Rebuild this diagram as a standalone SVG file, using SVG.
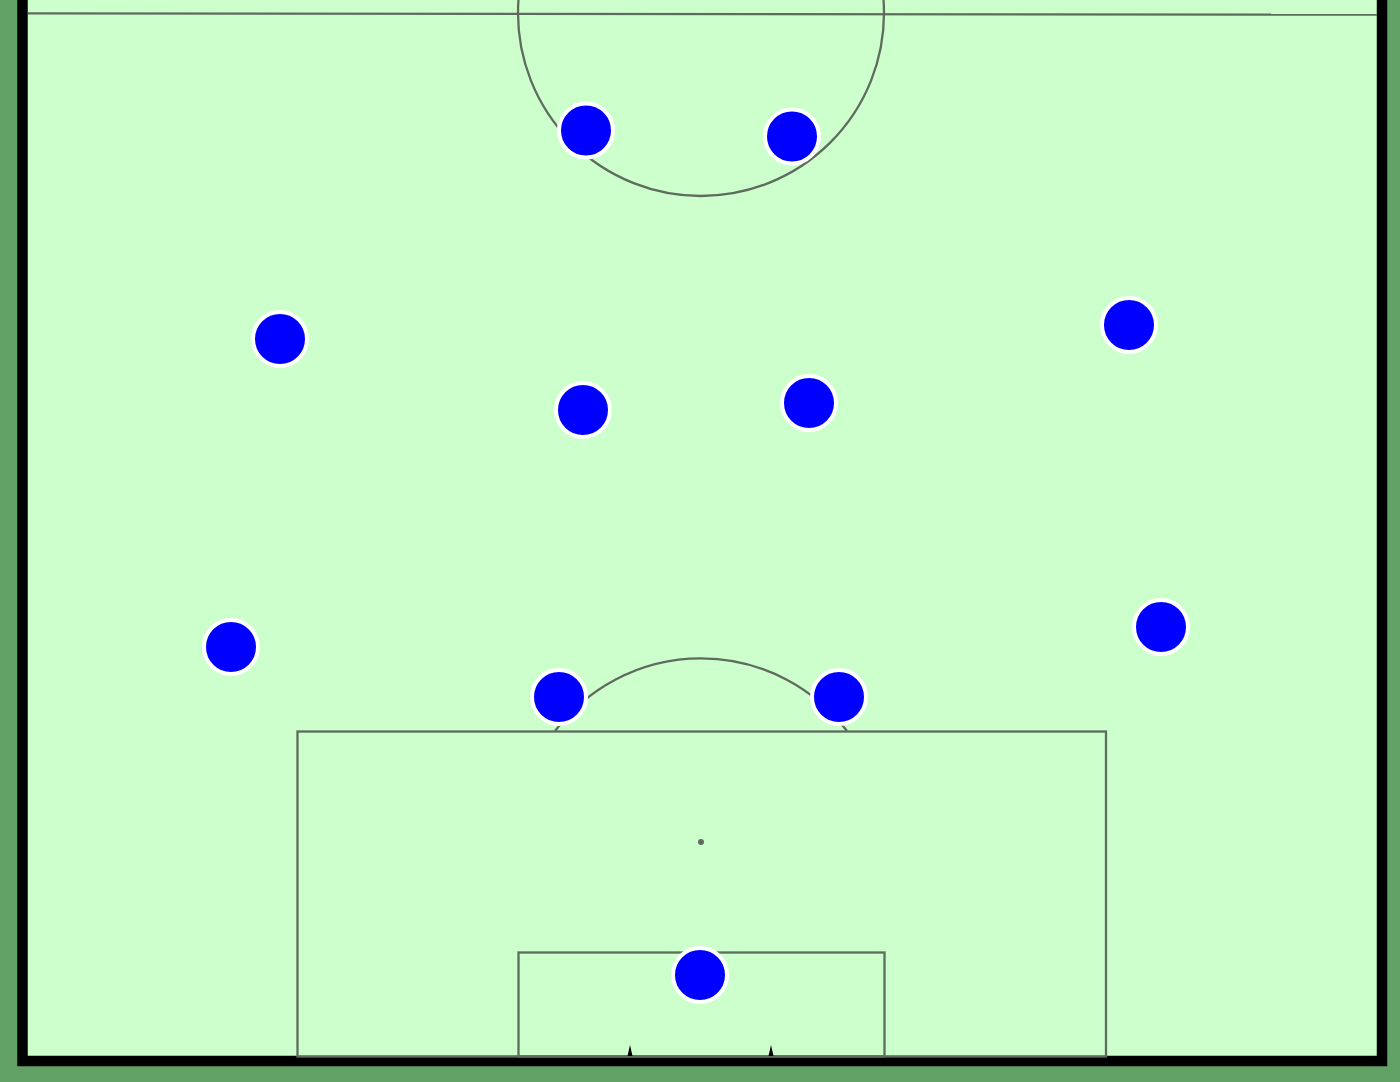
<svg xmlns="http://www.w3.org/2000/svg" width="1400" height="1082" viewBox="0 0 1400 1082">
<defs>
<style>
.line{fill:none;stroke:#5f6b5f;stroke-width:2.3}
.player{fill:#0000ff;stroke:#ffffff;stroke-width:4}
.post{fill:#000000}
</style>
</defs>
<rect x="0" y="0" width="1400" height="1082" fill="#63a266"/>
<rect x="22.5" y="-20" width="1359.5" height="1081" fill="#ccffcc" stroke="#000000" stroke-width="10.5"/>
<g id="markings">
<line class="line" x1="28" y1="13.3" x2="1377" y2="14.7"/>
<circle class="line" cx="701" cy="13" r="183"/>
<rect class="line" x="297.5" y="731.5" width="808.5" height="325"/>
<rect class="line" x="518.5" y="952.5" width="366" height="104"/>
<circle cx="701" cy="842" r="3" fill="#5f6b5f"/>
<path class="line" d="M555 731 A183 183 0 0 1 847 731"/>
<polygon class="post" points="627.5,1056 630,1045 632.5,1056"/>
<polygon class="post" points="768.5,1056 771,1045 773.5,1056"/>
</g>
<g id="players">
<circle id="p1" class="player" cx="586" cy="130.5" r="27"/>
<circle id="p2" class="player" cx="792" cy="136.5" r="27"/>
<circle id="p3" class="player" cx="280" cy="339" r="27"/>
<circle id="p4" class="player" cx="1129" cy="325" r="27"/>
<circle id="p5" class="player" cx="583" cy="410" r="27"/>
<circle id="p6" class="player" cx="809" cy="403" r="27"/>
<circle id="p7" class="player" cx="231" cy="647" r="27"/>
<circle id="p8" class="player" cx="1161" cy="627" r="27"/>
<circle id="p9" class="player" cx="559" cy="697" r="27"/>
<circle id="p10" class="player" cx="839" cy="697" r="27"/>
<circle id="p11" class="player" cx="700" cy="975" r="27"/>
</g>
</svg>
